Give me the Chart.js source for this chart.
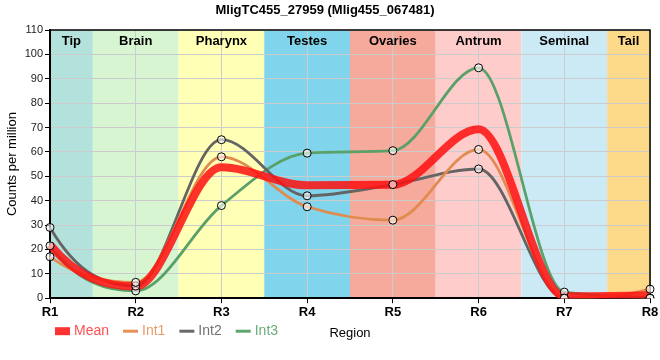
<!DOCTYPE html>
<html>
<head>
<meta charset="utf-8">
<script src="https://cdn.jsdelivr.net/npm/chart.js@4/dist/chart.umd.min.js"></script>
<style>
html,body{margin:0;padding:0;background:#ffffff;}
canvas{display:block;}
</style>
</head>
<body>
<canvas id="c" width="660" height="360"></canvas>
<script>
// ---- data ----
const regions = ['R1','R2','R3','R4','R5','R6','R7','R8'];
const tissues = ['Tip','Brain','Pharynx','Testes','Ovaries','Antrum','Seminal','Tail'];
const tissueColors = ['#b3e2dd','#d6f5d0','#ffffb5','#80d4eb','#f5aa9c','#ffcccc','#cceaf5','#fdd98a'];
const meanValues = [22, 4.8, 53.7, 46.3, 46.5, 69.3, 0.8, 1.2];
const int1Values = [17, 6.5, 58, 37.5, 32, 61, 0, 3.7];
const int2Values = [29, 5, 65, 42, 46.6, 53, 0, 0];
const int3Values = [21.5, 3, 38, 59.5, 60.5, 94.5, 2.5, 0];
const yTicks = [0,10,20,30,40,50,60,70,80,90,100,110];
const seriesNames = ['Mean','Int1','Int2','Int3'];
const seriesColors = ['rgba(255,15,15,0.85)','rgb(224,140,80)','rgb(100,100,100)','rgb(90,160,105)'];
const legendSwatchColors = ['rgb(255,50,50)','rgb(228,145,90)','rgb(105,105,105)','rgb(95,165,110)'];
const legendTextColors = ['rgb(255,80,80)','rgb(232,155,105)','rgb(115,115,115)','rgb(105,172,122)'];

const FONT = '"Liberation Sans", Arial, sans-serif';

const bandsPlugin = {
  id: 'bands',
  beforeDraw(chart) {
    const {ctx, chartArea, scales} = chart;
    const x = scales.x;
    ctx.save();
    tissues.forEach((name, i) => {
      const x0 = x.getPixelForValue(Math.max(0, i - 0.5));
      const x1 = x.getPixelForValue(Math.min(regions.length - 1, i + 0.5));
      ctx.fillStyle = tissueColors[i];
      ctx.fillRect(x0, chartArea.top, x1 - x0, chartArea.bottom - chartArea.top);
    });
    ctx.restore();
  },
  beforeDatasetsDraw(chart) {
    const {ctx, chartArea, scales} = chart;
    const x = scales.x;
    ctx.save();
    ctx.font = 'bold 13px ' + FONT;
    ctx.fillStyle = '#000';
    ctx.textAlign = 'center';
    ctx.textBaseline = 'middle';
    tissues.forEach((name, i) => {
      const x0 = x.getPixelForValue(Math.max(0, i - 0.5));
      const x1 = x.getPixelForValue(Math.min(regions.length - 1, i + 0.5));
      ctx.fillText(name, (x0 + x1) / 2, chartArea.top + 11);
    });
    ctx.strokeStyle = '#000';
    ctx.lineWidth = 1.5;
    ctx.beginPath();
    ctx.moveTo(chartArea.left, chartArea.top);
    ctx.lineTo(chartArea.right, chartArea.top);
    ctx.lineTo(chartArea.right, chartArea.bottom);
    ctx.stroke();
    ctx.restore();
  }
};

// monotone-x tangents (plateau-style curves, steeper end tangents)
const monoPlugin = {
  id: 'monoX',
  beforeDatasetDraw(chart, args) {
    const meta = args.meta;
    const line = meta.dataset;
    if (!line || typeof line.updateControlPoints !== 'function') return;
    if (chart.data.datasets[args.index].showLine === false) return;
    line.updateControlPoints(chart.chartArea, 'x');
    const pts = meta.data;
    const n = pts.length;
    if (n < 3) return;
    const s = [];
    for (let i = 0; i < n - 1; i++) s[i] = (pts[i + 1].y - pts[i].y) / (pts[i + 1].x - pts[i].x);
    const t = [];
    for (let i = 1; i < n - 1; i++) {
      const h0 = pts[i].x - pts[i - 1].x, h1 = pts[i + 1].x - pts[i].x;
      const p = (s[i - 1] * h1 + s[i] * h0) / (h0 + h1);
      t[i] = (Math.sign(s[i - 1]) + Math.sign(s[i])) * Math.min(Math.abs(s[i - 1]), Math.abs(s[i]), 0.5 * Math.abs(p)) || 0;
    }
    const endSlope = (sv, tn) => {
      let v = (5 * sv - tn) / 2;
      if (Math.abs(v) > 3 * Math.abs(sv)) v = 3 * sv;
      return v;
    };
    t[0] = endSlope(s[0], t[1]);
    t[n - 1] = endSlope(s[n - 2], t[n - 2]);
    for (let i = 0; i < n; i++) {
      const pt = pts[i];
      if (i > 0) {
        const h = pt.x - pts[i - 1].x;
        pt.cp1x = pt.x - h / 3;
        pt.cp1y = pt.y - t[i] * h / 3;
      }
      if (i < n - 1) {
        const h = pts[i + 1].x - pt.x;
        pt.cp2x = pt.x + h / 3;
        pt.cp2y = pt.y + t[i] * h / 3;
      }
    }
  }
};

const legendPlugin = {
  id: 'customLegend',
  afterDraw(chart) {
    const ctx = chart.ctx;
    ctx.save();
    ctx.font = '14px ' + FONT;
    ctx.textBaseline = 'middle';
    ctx.textAlign = 'left';
    const y = chart.chartArea.bottom + 33;
    let x = chart.chartArea.left + 5;
    seriesNames.forEach((name, i) => {
      if (i === 0) {
        ctx.fillStyle = legendSwatchColors[i];
        ctx.fillRect(x, y - 4, 15, 8);
      } else {
        ctx.strokeStyle = legendSwatchColors[i];
        ctx.lineWidth = 3;
        ctx.beginPath();
        ctx.moveTo(x, y);
        ctx.lineTo(x + 15, y);
        ctx.stroke();
      }
      ctx.fillStyle = legendTextColors[i];
      ctx.fillText(name, x + 19, y);
      x += 15 + 4 + ctx.measureText(name).width + 14;
    });
    ctx.restore();
  }
};

const lineBase = {
  fill: false,
  cubicInterpolationMode: 'monotone',
  pointRadius: 0,
  pointHoverRadius: 0
};
const pointBase = {
  showLine: false,
  pointRadius: 4,
  pointBorderWidth: 1,
  pointBorderColor: '#000',
  pointBackgroundColor: 'rgba(255,255,255,0.6)',
  order: 0
};

new Chart(document.getElementById('c'), {
  type: 'line',
  data: {
    labels: regions,
    datasets: [
      Object.assign({}, lineBase, {label: seriesNames[0], data: meanValues, borderColor: seriesColors[0], borderWidth: 8, order: 1}),
      Object.assign({}, lineBase, {label: seriesNames[1], data: int1Values, borderColor: seriesColors[1], borderWidth: 2.8, order: 2}),
      Object.assign({}, lineBase, {label: seriesNames[2], data: int2Values, borderColor: seriesColors[2], borderWidth: 2.8, order: 2}),
      Object.assign({}, lineBase, {label: seriesNames[3], data: int3Values, borderColor: seriesColors[3], borderWidth: 2.8, order: 2}),
      Object.assign({}, pointBase, {label: seriesNames[1] + ' points', data: int1Values}),
      Object.assign({}, pointBase, {label: seriesNames[2] + ' points', data: int2Values}),
      Object.assign({}, pointBase, {label: seriesNames[3] + ' points', data: int3Values})
    ]
  },
  options: {
    responsive: false,
    animation: false,
    devicePixelRatio: 1,
    layout: {padding: {top: 0, right: 10, bottom: 19, left: 0}},
    plugins: {
      legend: {display: false},
      tooltip: {enabled: false},
      title: {
        display: true,
        text: 'MligTC455_27959 (Mlig455_067481)',
        color: '#000',
        font: {family: FONT, size: 13, weight: 'bold'},
        padding: {top: 3, bottom: 11.4}
      }
    },
    scales: {
      x: {
        type: 'category',
        offset: false,
        grid: {color: '#cccccc', lineWidth: 1, tickColor: '#000', tickLength: 5, drawTicks: true},
        border: {color: '#000', width: 2},
        ticks: {color: '#000', font: {family: FONT, size: 13, weight: 'bold'}, padding: 1, maxRotation: 0, autoSkip: false},
        title: {display: true, text: 'Region', color: '#000', font: {family: FONT, size: 13}, padding: {top: 4.6, bottom: 0}}
      },
      y: {
        min: 0,
        max: 110,
        afterBuildTicks(s) { s.ticks = yTicks.map(v => ({value: v})); },
        afterFit(s) { s.width = 50; },
        grid: {color: '#cccccc', lineWidth: 1, tickColor: '#000', tickLength: 5},
        border: {color: '#000', width: 2},
        ticks: {color: '#222', font: {family: FONT, size: 11}, padding: 2},
        title: {display: true, text: 'Counts per million', color: '#000', font: {family: FONT, size: 13}, padding: {top: 5, bottom: 0}}
      }
    }
  },
  plugins: [bandsPlugin, monoPlugin, legendPlugin]
});
</script>
</body>
</html>
